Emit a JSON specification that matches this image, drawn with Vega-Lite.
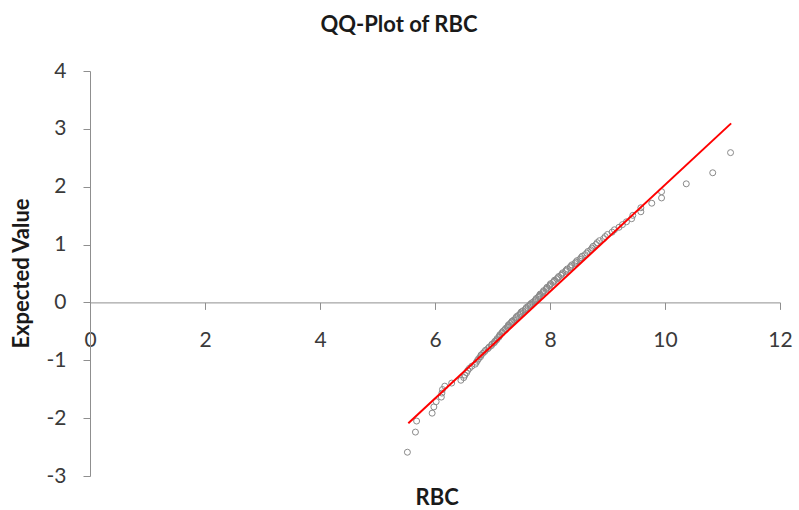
{
  "$schema": "https://vega.github.io/schema/vega-lite/v6.json",
  "autosize": "none",
  "width": 690,
  "height": 405,
  "padding": {"left": 90, "top": 71, "right": 19, "bottom": 34},
  "background": "white",
  "title": {"text": "QQ-Plot of RBC", "font": "Lato", "fontSize": 22, "fontWeight": "bold", "color": "#1a1a1a", "anchor": "middle", "dx": -36, "baseline": "alphabetic", "offset": 6},
  "config": {"view": {"stroke": null}},
  "datasets": {
    "pts": [
      {"RBC": 5.52, "Expected": -2.589}, {"RBC": 5.66, "Expected": -2.241}, {"RBC": 5.68, "Expected": -2.050}, {"RBC": 5.95, "Expected": -1.914},
      {"RBC": 5.98, "Expected": -1.806}, {"RBC": 6.02, "Expected": -1.715}, {"RBC": 6.11, "Expected": -1.636}, {"RBC": 6.12, "Expected": -1.567},
      {"RBC": 6.13, "Expected": -1.505}, {"RBC": 6.17, "Expected": -1.447}, {"RBC": 6.29, "Expected": -1.394}, {"RBC": 6.45, "Expected": -1.345},
      {"RBC": 6.50, "Expected": -1.299}, {"RBC": 6.52, "Expected": -1.256}, {"RBC": 6.55, "Expected": -1.215}, {"RBC": 6.57, "Expected": -1.175},
      {"RBC": 6.60, "Expected": -1.138}, {"RBC": 6.64, "Expected": -1.102}, {"RBC": 6.70, "Expected": -1.067}, {"RBC": 6.72, "Expected": -1.033},
      {"RBC": 6.74, "Expected": -1.001}, {"RBC": 6.76, "Expected": -0.970}, {"RBC": 6.79, "Expected": -0.940}, {"RBC": 6.80, "Expected": -0.910},
      {"RBC": 6.83, "Expected": -0.881}, {"RBC": 6.86, "Expected": -0.853}, {"RBC": 6.88, "Expected": -0.826}, {"RBC": 6.92, "Expected": -0.799},
      {"RBC": 6.94, "Expected": -0.773}, {"RBC": 6.98, "Expected": -0.747}, {"RBC": 6.99, "Expected": -0.722}, {"RBC": 7.03, "Expected": -0.697},
      {"RBC": 7.04, "Expected": -0.673}, {"RBC": 7.07, "Expected": -0.649}, {"RBC": 7.08, "Expected": -0.625}, {"RBC": 7.11, "Expected": -0.602},
      {"RBC": 7.12, "Expected": -0.579}, {"RBC": 7.13, "Expected": -0.557}, {"RBC": 7.16, "Expected": -0.534}, {"RBC": 7.17, "Expected": -0.512},
      {"RBC": 7.19, "Expected": -0.491}, {"RBC": 7.22, "Expected": -0.469}, {"RBC": 7.23, "Expected": -0.448}, {"RBC": 7.26, "Expected": -0.427},
      {"RBC": 7.27, "Expected": -0.406}, {"RBC": 7.28, "Expected": -0.385}, {"RBC": 7.31, "Expected": -0.364}, {"RBC": 7.33, "Expected": -0.344},
      {"RBC": 7.34, "Expected": -0.324}, {"RBC": 7.37, "Expected": -0.303}, {"RBC": 7.40, "Expected": -0.283}, {"RBC": 7.41, "Expected": -0.263},
      {"RBC": 7.42, "Expected": -0.243}, {"RBC": 7.45, "Expected": -0.223}, {"RBC": 7.48, "Expected": -0.204}, {"RBC": 7.49, "Expected": -0.184},
      {"RBC": 7.50, "Expected": -0.164}, {"RBC": 7.53, "Expected": -0.145}, {"RBC": 7.57, "Expected": -0.125}, {"RBC": 7.58, "Expected": -0.106},
      {"RBC": 7.59, "Expected": -0.087}, {"RBC": 7.62, "Expected": -0.067}, {"RBC": 7.65, "Expected": -0.048}, {"RBC": 7.66, "Expected": -0.029},
      {"RBC": 7.68, "Expected": -0.010}, {"RBC": 7.71, "Expected": 0.010}, {"RBC": 7.74, "Expected": 0.029}, {"RBC": 7.75, "Expected": 0.048},
      {"RBC": 7.76, "Expected": 0.067}, {"RBC": 7.79, "Expected": 0.087}, {"RBC": 7.81, "Expected": 0.106}, {"RBC": 7.82, "Expected": 0.125},
      {"RBC": 7.83, "Expected": 0.145}, {"RBC": 7.87, "Expected": 0.164}, {"RBC": 7.88, "Expected": 0.184}, {"RBC": 7.89, "Expected": 0.204},
      {"RBC": 7.93, "Expected": 0.223}, {"RBC": 7.94, "Expected": 0.243}, {"RBC": 7.95, "Expected": 0.263}, {"RBC": 7.99, "Expected": 0.283},
      {"RBC": 8.00, "Expected": 0.303}, {"RBC": 8.01, "Expected": 0.324}, {"RBC": 8.05, "Expected": 0.344}, {"RBC": 8.07, "Expected": 0.364},
      {"RBC": 8.08, "Expected": 0.385}, {"RBC": 8.12, "Expected": 0.406}, {"RBC": 8.14, "Expected": 0.427}, {"RBC": 8.15, "Expected": 0.448},
      {"RBC": 8.19, "Expected": 0.469}, {"RBC": 8.21, "Expected": 0.491}, {"RBC": 8.22, "Expected": 0.512}, {"RBC": 8.27, "Expected": 0.534},
      {"RBC": 8.28, "Expected": 0.557}, {"RBC": 8.30, "Expected": 0.579}, {"RBC": 8.35, "Expected": 0.602}, {"RBC": 8.36, "Expected": 0.625},
      {"RBC": 8.38, "Expected": 0.649}, {"RBC": 8.43, "Expected": 0.673}, {"RBC": 8.45, "Expected": 0.697}, {"RBC": 8.47, "Expected": 0.722},
      {"RBC": 8.52, "Expected": 0.747}, {"RBC": 8.54, "Expected": 0.773}, {"RBC": 8.56, "Expected": 0.799}, {"RBC": 8.61, "Expected": 0.826},
      {"RBC": 8.64, "Expected": 0.853}, {"RBC": 8.66, "Expected": 0.881}, {"RBC": 8.71, "Expected": 0.910}, {"RBC": 8.73, "Expected": 0.940},
      {"RBC": 8.75, "Expected": 0.970}, {"RBC": 8.80, "Expected": 1.001}, {"RBC": 8.82, "Expected": 1.033}, {"RBC": 8.86, "Expected": 1.067},
      {"RBC": 8.93, "Expected": 1.102}, {"RBC": 8.96, "Expected": 1.138}, {"RBC": 9.00, "Expected": 1.175}, {"RBC": 9.08, "Expected": 1.215},
      {"RBC": 9.12, "Expected": 1.256}, {"RBC": 9.20, "Expected": 1.299}, {"RBC": 9.26, "Expected": 1.345}, {"RBC": 9.33, "Expected": 1.394},
      {"RBC": 9.42, "Expected": 1.447}, {"RBC": 9.44, "Expected": 1.505}, {"RBC": 9.58, "Expected": 1.567}, {"RBC": 9.58, "Expected": 1.636},
      {"RBC": 9.77, "Expected": 1.715}, {"RBC": 9.94, "Expected": 1.806}, {"RBC": 9.94, "Expected": 1.914}, {"RBC": 10.37, "Expected": 2.050},
      {"RBC": 10.83, "Expected": 2.241}, {"RBC": 11.14, "Expected": 2.589}
    ],
    "fit": [
      {"RBC": 5.536, "Expected": -2.09},
      {"RBC": 11.15, "Expected": 3.095}
    ]
  },
  "layer": [
    {
      "data": {"name": "pts"},
      "mark": {"type": "point", "shape": "circle", "filled": false, "stroke": "#8a8a8a", "strokeWidth": 1, "size": 36, "opacity": 1},
      "encoding": {
        "x": {"field": "RBC", "type": "quantitative",
          "scale": {"domain": [0, 12], "nice": false, "zero": false},
          "axis": {"values": [0, 2, 4, 6, 8, 10, 12], "offset": -173.6, "grid": false,
            "labelExpr": "'' + datum.value",
            "domainColor": "#8f8f8f", "tickColor": "#8f8f8f", "tickSize": 7, "domainWidth": 1,
            "labelFont": "Lato", "labelFontSize": 21, "labelColor": "#3a3a3a", "labelPadding": 20, "labelBaseline": "top",
            "labelFlush": false, "labelOverlap": false,
            "title": "RBC", "titleFont": "Lato", "titleFontSize": 22, "titleFontWeight": "bold", "titleColor": "#1a1a1a",
            "titleBaseline": "alphabetic", "titleY": 201.6, "titleX": 346.7, "titleAlign": "center"}},
        "y": {"field": "Expected", "type": "quantitative",
          "scale": {"domain": [-3, 4], "nice": false, "zero": false},
          "axis": {"values": [-3, -2, -1, 0, 1, 2, 3, 4], "grid": false,
            "labelExpr": "'' + datum.value",
            "domainColor": "#8f8f8f", "tickColor": "#8f8f8f", "tickSize": 7, "domainWidth": 1,
            "labelFont": "Lato", "labelFontSize": 21, "labelColor": "#3a3a3a", "labelPadding": 17,
            "labelFlush": false, "labelOverlap": false,
            "title": "Expected Value", "titleFont": "Lato", "titleFontSize": 22, "titleFontWeight": "bold", "titleColor": "#1a1a1a",
            "titleBaseline": "alphabetic", "titleX": -61.5, "titleY": 202, "titleAlign": "center", "titleAngle": -90}}
      }
    },
    {
      "data": {"name": "fit"},
      "mark": {"type": "line", "color": "#ff0000", "strokeWidth": 2},
      "encoding": {
        "x": {"field": "RBC", "type": "quantitative"},
        "y": {"field": "Expected", "type": "quantitative"}
      }
    }
  ]
}
